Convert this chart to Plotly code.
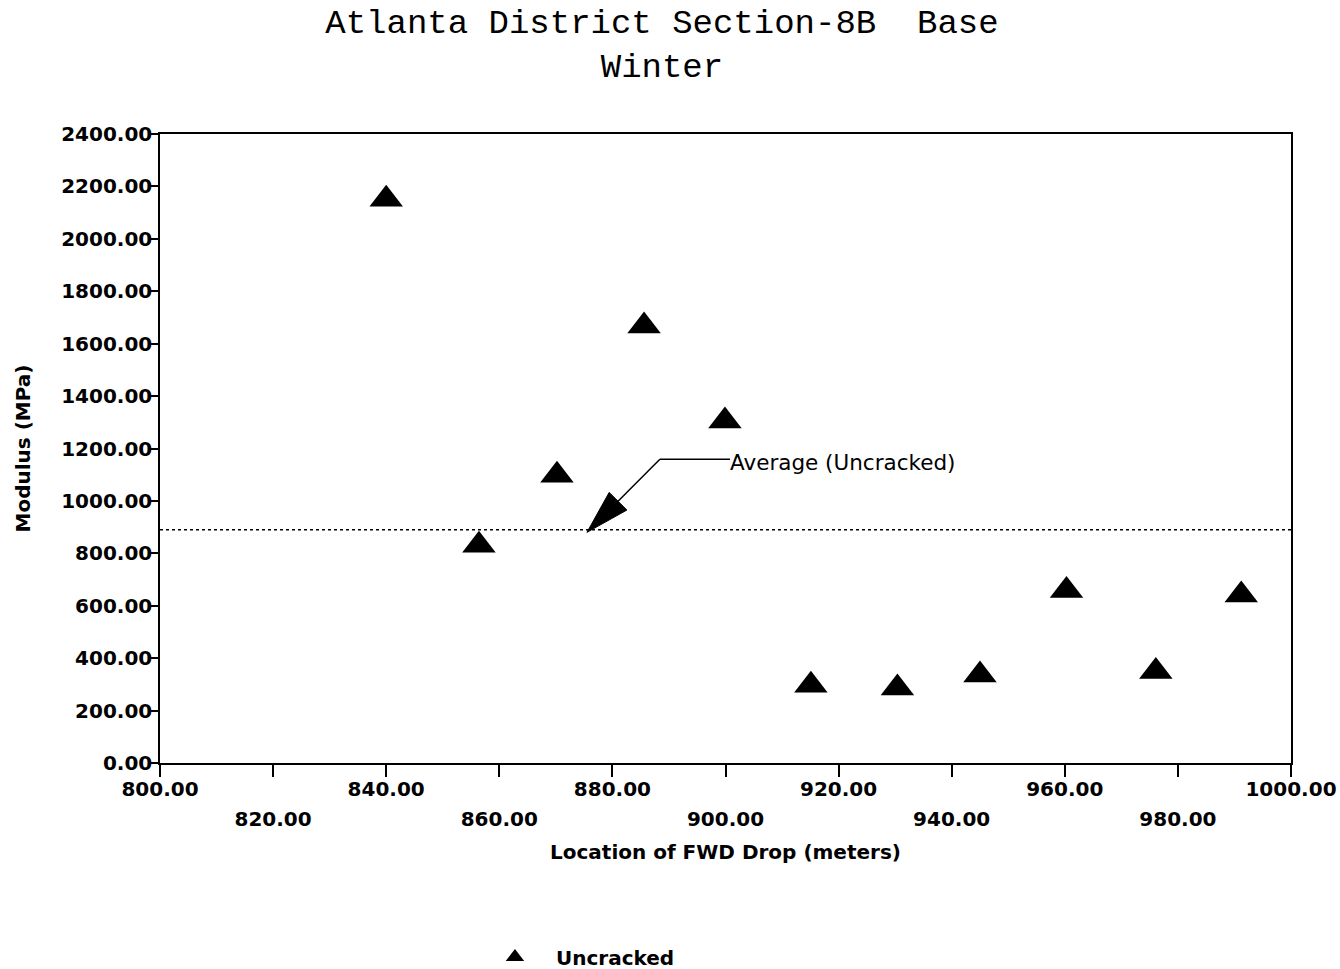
import numpy as np
import plotly.graph_objects as go

# FWD drop locations (m) and back-calculated base modulus (MPa)
location_m = [840.0, 856.4, 870.2, 885.6, 899.9, 915.1, 930.4, 945.0, 960.3, 976.1, 991.2]
modulus_mpa = [2151, 831, 1098, 1667, 1305, 297, 286, 336, 658, 349, 641]

avg_uncracked = 890  # average modulus, uncracked points

# annotation geometry (data units)
arrow_tip = (875.5, 880)
arrow_tail = (888.4, 1159)
label_start_x = 900.8

x_ticks = list(range(800, 1001, 20))
x_row1 = [v for v in x_ticks if (v - 800) % 40 == 0]
x_row2 = [v for v in x_ticks if (v - 800) % 40 == 20]
y_ticks = list(range(0, 2401, 200))

W, H = 1340, 969
M = dict(l=160, r=49, t=134, b=206)
x_rng = [800, 1000]
y_rng = [0, 2400]

SANS = "DejaVu Sans, Liberation Sans, Arial, sans-serif"
tick_font = dict(family=SANS, size=20, color="black")
bold = lambda s: f"<b>{s}</b>"

fig = go.Figure()
fig.add_trace(go.Scatter(
    x=location_m, y=modulus_mpa, mode="markers", name=bold("Uncracked"),
    marker=dict(symbol="triangle-up", size=29, color="black"),
    xaxis="x", yaxis="y",
))

# arrowhead built in pixel space, then mapped back to data units
sx = (W - M["l"] - M["r"]) / (x_rng[1] - x_rng[0])
sy = (H - M["t"] - M["b"]) / (y_rng[1] - y_rng[0])
tip = np.array([arrow_tip[0] * sx, arrow_tip[1] * sy])
tail = np.array([arrow_tail[0] * sx, arrow_tail[1] * sy])
u = (tail - tip) / np.linalg.norm(tail - tip)
n = np.array([-u[1], u[0]])
head_len, head_w = 44, 25
base = tip + u * head_len
c1 = base + n * head_w / 2
c2 = base - n * head_w / 2
to_data = lambda p: (p[0] / sx, p[1] / sy)
pts = [to_data(tip), to_data(c1), to_data(c2)]
head_path = "M {} {} L {} {} L {} {} Z".format(*[c for p in pts for c in p])

fig.add_shape(type="line", xref="paper", yref="y", x0=0, x1=1,
              y0=avg_uncracked, y1=avg_uncracked,
              line=dict(color="black", width=1.5, dash="dot"))
fig.add_shape(type="path", xref="x", yref="y", path=head_path,
              fillcolor="black", line=dict(color="black", width=1))
fig.add_shape(type="line", xref="x", yref="y",
              x0=to_data(base)[0], y0=to_data(base)[1],
              x1=arrow_tail[0], y1=arrow_tail[1],
              line=dict(color="black", width=1.5))
fig.add_shape(type="line", xref="x", yref="y",
              x0=arrow_tail[0], y0=arrow_tail[1], x1=label_start_x, y1=arrow_tail[1],
              line=dict(color="black", width=1.5))
fig.add_annotation(x=label_start_x, y=arrow_tail[1], xref="x", yref="y",
                   text="Average (Uncracked)", showarrow=False,
                   xanchor="left", yanchor="middle", xshift=-2, yshift=-3,
                   font=dict(family=SANS, size=21.5, color="black"))

fig.update_layout(
    width=W, height=H, margin=M,
    paper_bgcolor="white", plot_bgcolor="white",
    title=dict(text="Atlanta District Section-8B  Base<br>Winter",
               x=0.494, xanchor="center", y=0.966, yanchor="top",
               font=dict(family="Courier New, Liberation Mono, monospace", size=34, color="black")),
    showlegend=True,
    legend=dict(orientation="h", xref="container", yref="container",
                x=0.3537, xanchor="left", y=0.0124, yanchor="middle",
                itemwidth=72,
                font=dict(family=SANS, size=20, color="black"),
                bgcolor="rgba(0,0,0,0)"),
    xaxis=dict(range=x_rng, tickvals=x_ticks, automargin=False,
               ticktext=[bold(f"{v:.2f}") if v in x_row1 else "" for v in x_ticks],
               ticks="outside", ticklen=12, tickwidth=1.5, tickcolor="black",
               ticklabelstandoff=-5,
               showline=True, linecolor="black", linewidth=1.5, mirror=True,
               showgrid=False, zeroline=False, tickfont=tick_font,
               title=dict(text=bold("Location of FWD Drop (meters)"), standoff=45,
                          font=dict(family=SANS, size=20, color="black"))),
    xaxis2=dict(range=x_rng, overlaying="x", anchor="y", side="bottom", automargin=False,
                tickvals=x_row2, ticktext=[bold(f"{v:.2f}") for v in x_row2],
                ticks="", ticklabelstandoff=42, showline=False, showgrid=False,
                zeroline=False, tickfont=tick_font),
    yaxis=dict(range=y_rng, tickvals=y_ticks, automargin=False,
               ticktext=[bold(f"{v:.2f}") for v in y_ticks],
               ticks="outside", ticklen=8, tickwidth=1.5, tickcolor="black",
               ticklabelstandoff=-6,
               showline=True, linecolor="black", linewidth=1.5, mirror=True,
               showgrid=False, zeroline=False, tickfont=tick_font,
               title=dict(text=bold("Modulus (MPa)"), standoff=25,
                          font=dict(family=SANS, size=20, color="black"))),
)

# invisible trace so the second x axis is rendered
fig.add_trace(go.Scatter(x=[800], y=[0], xaxis="x2", yaxis="y", mode="markers",
                         marker=dict(opacity=0), showlegend=False, hoverinfo="skip"))

fig.write_html("out.html")
